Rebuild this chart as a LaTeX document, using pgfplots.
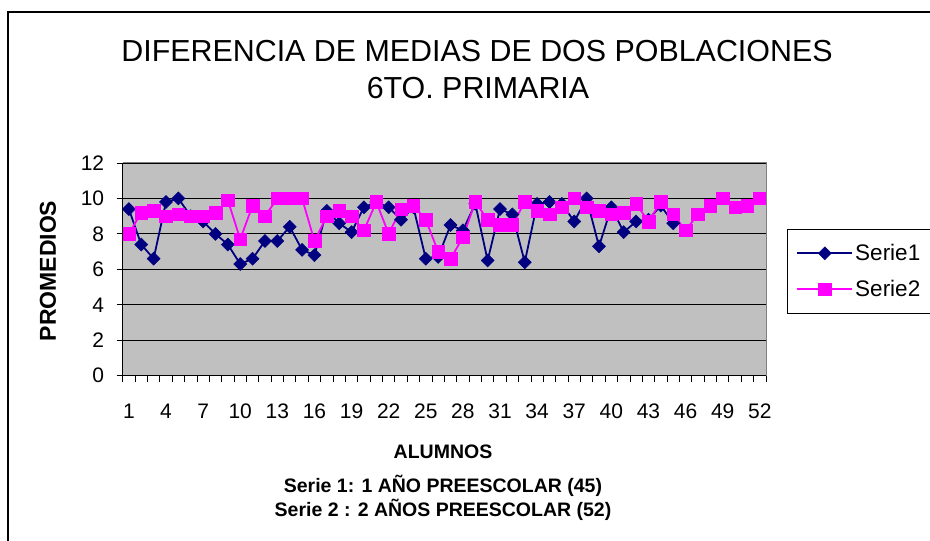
\documentclass[border=0pt]{standalone}
\usepackage{pgfplots}
\pgfplotsset{compat=1.18}
\usepackage{fontspec}
\setmainfont{Liberation Sans}
\definecolor{sone}{HTML}{000080}
\definecolor{stwo}{HTML}{FF00FF}
\definecolor{plotbg}{HTML}{C0C0C0}
\definecolor{frameg}{HTML}{808080}
\begin{document}
\begin{tikzpicture}[x=1pt,y=1pt]
\useasboundingbox (0,0) rectangle (930,541);
\draw[line width=1.2pt] (8,-5) -- (8,529) -- (940,529);
\begin{axis}[
  at={(122.7pt,165.3pt)}, anchor=south west,
  scale only axis, width=643.3pt, height=212.7pt,
  xmin=0.5, xmax=52.5, ymin=0, ymax=12,
  axis background/.style={fill=plotbg},
  axis line style={draw=none},
  tick pos=left, tick align=outside,
  major tick length=6pt,
  tick style={black, line width=0.8pt},
  ymajorgrids, major grid style={black, line width=0.8pt},
  ytick={0,2,...,12},
  xtick={0.5,1.5,...,52.5},
  xticklabel={\hbox{}},
  extra x ticks={1,4,...,52},
  extra x tick style={major tick length=0pt, xticklabel={\pgfmathprintnumber{\tick}}, xticklabel style={yshift=-25pt}},
  /pgf/number format/assume math mode=true,
  every tick label/.append style={font=\fontsize{21}{25}\selectfont},
  yticklabel style={xshift=-9pt},
  legend style={at={(axis description cs:1.0327,0.6897)}, anchor=north west,
    draw=black, line width=0.8pt, fill=white, font=\fontsize{22.5}{26}\selectfont,
    row sep=14pt, inner xsep=9pt, inner ysep=13pt},
  legend cell align=left,
  legend image code/.code={\draw[mark repeat=2,mark phase=2,#1] plot coordinates {(0pt,0pt) (27.5pt,0pt) (55pt,0pt)};},
  after end axis/.code={
    \draw[frameg, line width=1pt] (rel axis cs:0,1) -- (rel axis cs:1,1) -- (rel axis cs:1,0);
    \draw[black, line width=1pt] (rel axis cs:0,1) -- (rel axis cs:0,0) -- (rel axis cs:1,0);
  },
]
\addplot[color=sone, line width=1.8pt, mark=square*, mark size=4.6pt, mark options={rotate=45, fill=sone, draw=sone, line width=0.5pt}] coordinates {
(1,9.4) (2,7.4) (3,6.6) (4,9.8) (5,10.0) (6,9.0) (7,8.7) (8,8.0) (9,7.4) (10,6.3)
(11,6.6) (12,7.6) (13,7.6) (14,8.4) (15,7.1) (16,6.8) (17,9.3) (18,8.6) (19,8.1) (20,9.5)
(21,9.8) (22,9.5) (23,8.8) (24,9.5) (25,6.6) (26,6.7) (27,8.5) (28,8.2) (29,9.7) (30,6.5)
(31,9.4) (32,9.1) (33,6.4) (34,9.7) (35,9.8) (36,9.7) (37,8.7) (38,10.0) (39,7.3) (40,9.5)
(41,8.1) (42,8.7) (43,8.8) (44,9.6) (45,8.6)
};
\addlegendentry{Serie1\hspace*{40pt}}
\addplot[color=stwo, line width=1.8pt, mark=square*, mark size=6.3pt, mark options={fill=stwo, draw=stwo, line width=0.5pt}] coordinates {
(1,8.0) (2,9.2) (3,9.3) (4,9.0) (5,9.1) (6,9.0) (7,9.0) (8,9.2) (9,9.9) (10,7.7)
(11,9.6) (12,9.0) (13,10.0) (14,10.0) (15,10.0) (16,7.6) (17,9.0) (18,9.3) (19,9.0) (20,8.2)
(21,9.8) (22,8.0) (23,9.4) (24,9.6) (25,8.8) (26,7.0) (27,6.6) (28,7.8) (29,9.8) (30,8.8)
(31,8.5) (32,8.5) (33,9.8) (34,9.3) (35,9.1) (36,9.5) (37,10.0) (38,9.5) (39,9.3) (40,9.1)
(41,9.2) (42,9.7) (43,8.7) (44,9.8) (45,9.1) (46,8.2) (47,9.1) (48,9.6) (49,10.0) (50,9.5)
(51,9.6) (52,10.0)
};
\addlegendentry{Serie2\hspace*{40pt}}
\end{axis}
\node[anchor=base, font=\fontsize{30.4}{36}\selectfont] at (477,479) {DIFERENCIA DE MEDIAS DE DOS POBLACIONES};
\node[anchor=base, font=\fontsize{30.4}{36}\selectfont] at (478,442) {6TO. PRIMARIA};
\node[rotate=90, font=\fontsize{23}{27}\selectfont\bfseries] at (48,270) {PROMEDIOS};
\node[font=\fontsize{19.5}{23}\selectfont\bfseries] at (443,89) {ALUMNOS};
\node[font=\fontsize{19.5}{23}\selectfont\bfseries] at (443,55) {Serie 1: 1 AÑO PREESCOLAR (45)};
\node[font=\fontsize{19.5}{23}\selectfont\bfseries] at (443,31) {Serie 2 : 2 AÑOS PREESCOLAR (52)};
\end{tikzpicture}
\end{document}
